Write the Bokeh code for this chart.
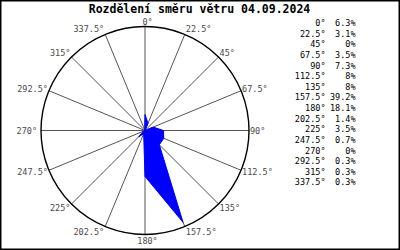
import math
from bokeh.plotting import figure
from bokeh.models import Range1d, ColumnDataSource
from bokeh.core.properties import value
from bokeh.embed import file_html
from bokeh.resources import INLINE

TITLE = "Rozdělení směru větru 04.09.2024"
DIRECTIONS = [0, 22.5, 45, 67.5, 90, 112.5, 135, 157.5, 180, 202.5, 225, 247.5, 270, 292.5, 315, 337.5]
DIR_LABELS = ["0°", "22.5°", "45°", "67.5°", "90°", "112.5°", "135°", "157.5°",
              "180°", "202.5°", "225°", "247.5°", "270°", "292.5°", "315°", "337.5°"]
PERCENT = [6.3, 3.1, 0, 3.5, 7.3, 8, 8, 39.2, 18.1, 1.4, 3.5, 0.7, 0, 0.3, 0.3, 0.3]
R_MAX = 41.0  # outer ring, in percent

W, H = 400, 250
CX, CY = 144.5, 130.0   # centre of the rose on screen (px)
K = 104.0 / R_MAX       # px per percent

p = figure(width=W, height=H, output_backend="svg", toolbar_location=None,
           x_range=Range1d(-CX / K, (W - CX) / K),
           y_range=Range1d(-(H - CY) / K, CY / K),
           min_border=0)
p.axis.visible = False
p.grid.visible = False
p.outline_line_color = "black"
p.outline_line_width = 2
p.background_fill_color = "white"
p.border_fill_color = "white"

def px(dx):
    return dx / K

th = [math.radians(d) for d in DIRECTIONS]

# spokes
p.segment(x0=[0] * 16, y0=[0] * 16,
          x1=[R_MAX * math.sin(t) for t in th],
          y1=[R_MAX * math.cos(t) for t in th],
          line_color="#555555", line_width=1)

# polygon of values
xs = [v * math.sin(t) for v, t in zip(PERCENT, th)]
ys = [v * math.cos(t) for v, t in zip(PERCENT, th)]
p.patch(xs, ys, fill_color="#0000ff", line_color="#0000ff", line_width=1)

# outer circle
p.circle(x=[0], y=[0], radius=R_MAX, fill_color=None, line_color="black", line_width=1.4)

# direction labels around circle
lx, ly, la = [], [], []
for d, t in zip(DIRECTIONS, th):
    x = R_MAX * math.sin(t)
    y = R_MAX * math.cos(t)
    dy = 5.5 * math.cos(t)
    if d in (0, 180):
        x += px(2.5)
        align = "center"
        dy = 5.0 if d == 0 else -6.0
    elif d < 180:
        x += px(1)
        align = "left"
    else:
        x -= px(1 if d != 270 else 4)
        align = "right"
    lx.append(x)
    ly.append(y + px(dy))
    la.append(align)
src = ColumnDataSource(dict(x=lx, y=ly, t=DIR_LABELS, a=la))
p.text(x="x", y="y", text="t", text_align="a", text_baseline="middle",
       text_font=value("DejaVu Sans Mono"), text_font_size="8.5px",
       text_color="#4a4a4a", source=src)

# legend list on the right
def sx(x):
    return (x - CX) / K

def sy(y):
    return (CY - y) / K

rows_y = [sy(22.5 + i * 10.63) for i in range(len(DIR_LABELS))]
p.text(x=[sx(325)] * 16, y=rows_y, text=DIR_LABELS, text_align="right",
       text_baseline="middle", text_font=value("DejaVu Sans Mono"),
       text_font_size="8.5px", text_color="black")
p.text(x=[sx(355)] * 16, y=rows_y, text=[f"{v:g}%" for v in PERCENT],
       text_align="right", text_baseline="middle",
       text_font=value("DejaVu Sans Mono"), text_font_size="8.5px",
       text_color="black")

# title
p.text(x=[sx(199)], y=[sy(8.5)], text=[TITLE], text_align="center",
       text_baseline="middle", text_font=value("DejaVu Sans Mono"),
       text_font_size="11.5px", text_font_style="bold", text_color="black")

open("out.html", "w").write(file_html(p, INLINE))
